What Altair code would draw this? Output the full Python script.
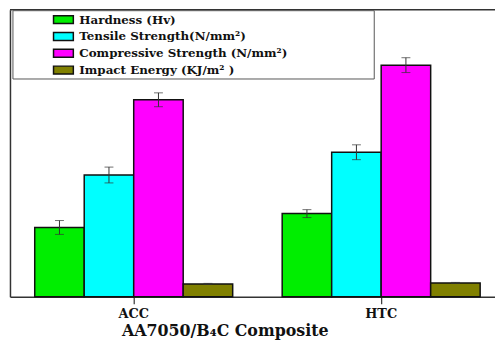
import altair as alt
import pandas as pd

categories = ["ACC", "HTC"]
series = ["Hardness (Hv)", "Tensile Strength(N/mm²)", "Compressive Strength (N/mm²)", "Impact Energy (KJ/m² )"]
acc_values = [140, 246, 398, 26]
htc_values = [168, 292, 468, 28]
acc_err = [14, 16, 14, 1]
htc_err = [8, 15, 15, 1]
colors = ["#00ee00", "#00ffff", "#ff00ff", "#808000"]

rows = []
for cat, vals, errs in [("ACC", acc_values, acc_err), ("HTC", htc_values, htc_err)]:
    for s, v, e in zip(series, vals, errs):
        rows.append({"cat": cat, "series": s, "value": v, "lo": v - e, "hi": v + e})
df = pd.DataFrame(rows)

W, H = 490, 290
FONT = "DejaVu Serif"

x = alt.X("cat:N", sort=categories,
          scale=alt.Scale(domain=categories, range=[0, 500], paddingInner=0, paddingOuter=0),
          axis=alt.Axis(title="AA7050/B₄C Composite", labelAngle=0, labelFont=FONT, labelFontSize=13,
                        labelFontWeight="bold", labelColor="#111", labelPadding=4,
                        titleFont=FONT, titleFontSize=16, titleFontWeight="bold", titleColor="#111",
                        titleX=217, titleY=34, titleAlign="center", titleBaseline="middle",
                        tickSize=7, tickColor="#333", domainColor="#333", domainWidth=1.5, tickWidth=1.2))
xo = alt.XOffset("series:N", sort=series,
                 scale=alt.Scale(domain=series, paddingInner=0, paddingOuter=0.5))
y_scale = alt.Scale(domain=[0, 580], nice=False, zero=True)

base = alt.Chart(df)

bars = base.mark_bar(stroke="#111", strokeWidth=1.5).encode(
    x=x, xOffset=xo,
    y=alt.Y("value:Q", scale=y_scale,
            axis=alt.Axis(title=None, labels=False, ticks=False, grid=False,
                          domainColor="#333", domainWidth=1.5)),
    color=alt.Color("series:N", sort=series,
                    scale=alt.Scale(domain=series, range=colors),
                    legend=alt.Legend(title=None, orient="none", legendX=48, legendY=4,
                                      symbolType="M-2,-0.8H2V0.8H-2Z", symbolSize=100,
                                      symbolStrokeColor="#111", symbolStrokeWidth=1.5,
                                      symbolOpacity=1, labelFont=FONT, labelFontSize=12,
                                      labelFontWeight="bold", labelColor="#111", labelLimit=400,
                                      labelOffset=10, rowPadding=3, padding=0)),
)

err = base.mark_rule(color="#333", strokeWidth=1).encode(
    x=x, xOffset=xo,
    y=alt.Y("lo:Q", scale=y_scale), y2="hi:Q",
)
cap_lo = base.mark_tick(color="#333", thickness=1, size=9).encode(
    x=x, xOffset=xo, y=alt.Y("lo:Q", scale=y_scale))
cap_hi = base.mark_tick(color="#333", thickness=1, size=9).encode(
    x=x, xOffset=xo, y=alt.Y("hi:Q", scale=y_scale))

legend_box = alt.Chart(pd.DataFrame({"k": [0]})).mark_rect(
    fill="white", stroke="#555", strokeWidth=1).encode(
    x=alt.value(3), x2=alt.value(368), y=alt.value(1), y2=alt.value(70))

top_line = alt.Chart(pd.DataFrame({"k": [0]})).mark_rule(color="#333", strokeWidth=1.5).encode(
    x=alt.value(0), x2=alt.value(W), y=alt.value(0))

chart = alt.layer(top_line, legend_box, bars, err, cap_lo, cap_hi).properties(
    width=W, height=H,
    padding={"left": 2, "top": 0, "right": 0, "bottom": 45},
    autosize=alt.AutoSizeParams(type="none"),
    background="white",
).configure_view(stroke=None).configure_axis(grid=False)

chart.save("out.html", embed_options={"renderer": "svg", "actions": False})
